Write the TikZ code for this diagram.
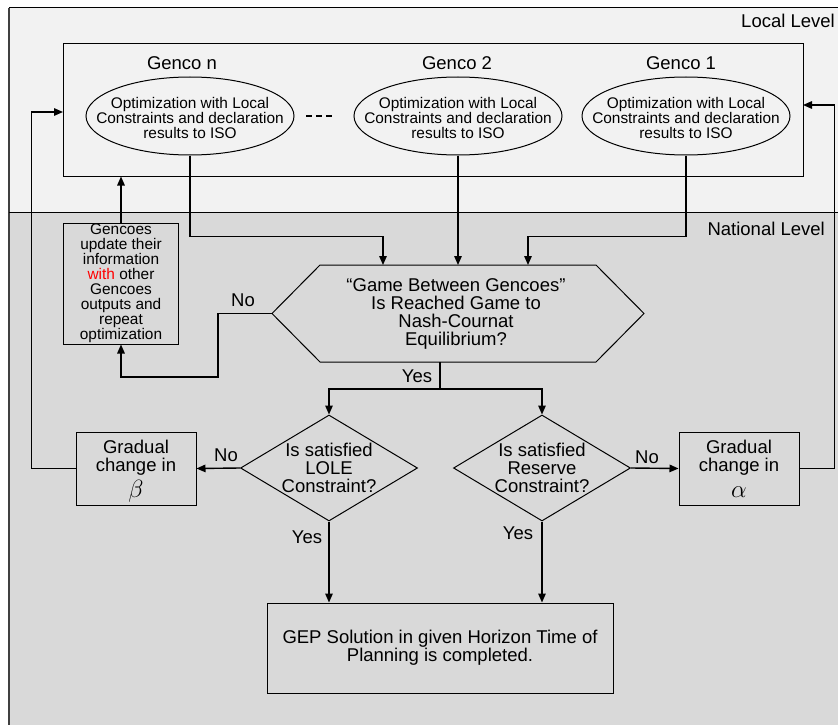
\documentclass[tikz,border=0pt]{standalone}
\usepackage{fontspec}
\setmainfont{Liberation Sans}
\usetikzlibrary{arrows.meta,shapes.geometric}
\definecolor{toplvl}{HTML}{F2F2F2}
\definecolor{botlvl}{HTML}{D9D9D9}
\newcommand{\bigtxt}{\fontsize{18.5}{18.3}\selectfont}
\newcommand{\smtxt}{\fontsize{15.4}{15}\selectfont}
\begin{document}
\begin{tikzpicture}[x=1pt,y=-1pt,
  conn/.style={line width=1.4pt, -{Triangle[length=9pt,width=7.5pt]}},
  plain/.style={line width=1.4pt},
  box/.style={draw, line width=1pt, inner sep=0pt},
  ell/.style={ellipse, draw, line width=1pt, minimum width=208pt, minimum height=78pt, inner sep=0pt},
  dia/.style={diamond, draw, line width=1pt, minimum width=177pt, minimum height=106pt, inner sep=0pt},
  lbl/.style={font=\bigtxt, inner sep=0pt},
  btxt/.style={font=\bigtxt, align=center, inner sep=0pt},
  stxt/.style={font=\smtxt, align=center, inner sep=0pt}]
\useasboundingbox (0,0) rectangle (838,725);
\fill[white] (0,0) rectangle (838,725);
% level regions
\fill[toplvl] (9,8) rectangle (838,212);
\fill[botlvl] (9,212) rectangle (838,725);
\draw[line width=1pt] (838,8) -- (9,8);
\draw[line width=1.6pt, black!75] (9,8) -- (9,725);
\draw[line width=1pt] (9,212) -- (838,212);
\node[lbl, anchor=east] (ll) at (835,21) {Local Level};
\node[lbl, anchor=east] (nl) at (825,229) {National Level};
% local box
\node[box, minimum width=740pt, minimum height=132pt] (loc) at (433,110) {};
\node[lbl] (gnl) at (182,63) {Genco n};
\node[lbl] (g2l) at (457,63) {Genco 2};
\node[lbl] (g1l) at (681,63) {Genco 1};
\node[ell] (gn) at (190,116) {};
\node[ell] (g2) at (458,116) {};
\node[ell] (g1) at (686,116) {};
\node[stxt] (gnt) at (190,118) {Optimization with Local\\Constraints and declaration\\results to ISO};
\node[stxt] (g2t) at (458,118) {Optimization with Local\\Constraints and declaration\\results to ISO};
\node[stxt] (g1t) at (686,118) {Optimization with Local\\Constraints and declaration\\results to ISO};
\draw[line width=2pt, dash pattern=on 6pt off 4pt] (306,116) -- (332,116);
% update box
\node[box, minimum width=115pt, minimum height=121pt, font=\smtxt, align=center] (upd) at (121,283.5)
  {Gencoes\\update their\\information\\\textcolor{red}{with} other\\Gencoes\\outputs and\\repeat\\optimization};
% hexagon
\draw[line width=1pt] (320,265) -- (596,265) -- (644,313.5) -- (596,362) -- (320,362) -- (272,313.5) -- cycle;
\node[btxt] (hex) at (456,314) {“Game Between Gencoes”\\Is Reached Game to\\Nash-Cournat\\Equilibrium?};
\coordinate (hexA) at (383,265);
\coordinate (hexB) at (458,265);
\coordinate (hexC) at (528,265);
\coordinate (hexW) at (272,313.5);
\coordinate (hexS) at (440,362);
% decisions
\node[dia] (lole) at (329,468) {};
\node[dia] (res) at (542,468) {};
\node[btxt] (lolet) at (329,468) {Is satisfied\\LOLE\\Constraint?};
\node[btxt] (rest) at (542,468) {Is satisfied\\Reserve\\Constraint?};
\node[box, minimum width=120pt, minimum height=73pt, btxt] (beta) at (136,468.5) {};
\node[btxt] (betat) at (136,471)
  {Gradual\\change in\\[4pt]{\fontsize{24}{18.3}\selectfont$\beta$}};
\node[box, minimum width=120pt, minimum height=73pt, btxt] (alpha) at (739,468.5) {};
\node[btxt] (alphat) at (739,471)
  {Gradual\\change in\\[4pt]{\fontsize{24}{18.3}\selectfont$\alpha\vphantom{\beta}$}};
\node[box, minimum width=346pt, minimum height=90pt, btxt] (gep) at (440,648)
  {GEP Solution in given Horizon Time of\\Planning is completed.};
\coordinate (lin) at (63,112);
\coordinate (rin) at (803,105);
% connectors
\draw[conn] (gn.south) -- ++(0,81) -| (hexA);
\draw[conn] (g2.south) -- (hexB);
\draw[conn] (g1.south) -- ++(0,81) -| (hexC);
\draw[conn] (hexW) -- ++(-54,0) -- ++(0,63.5) -| (upd.south);
\draw[conn] (upd.north) -- (upd.north |- loc.south);
\draw[plain] (hexS) -- ++(0,27) coordinate (yj);
\draw[conn] (yj) -| (lole.north);
\draw[conn] (yj) -| (res.north);
\draw[conn] (lole.west) -- (beta.east);
\draw[conn] (res.east) -- (alpha.west);
\draw[conn] (beta.west) -- ++(-44,0) |- (lin);
\draw[conn] (alpha.east) -- ++(35,0) |- (rin);
\draw[conn] (lole.south) -- (lole.south |- gep.north);
\draw[conn] (res.south) -- (res.south |- gep.north);
% labels
\node[lbl] (n1) at (243,300) {No};
\node[lbl] (y1) at (417,376) {Yes};
\node[lbl] (n2) at (226,455) {No};
\node[lbl] (n3) at (647,457) {No};
\node[lbl] (y2) at (307,537) {Yes};
\node[lbl] (y3) at (518,533) {Yes};
\end{tikzpicture}
\end{document}
